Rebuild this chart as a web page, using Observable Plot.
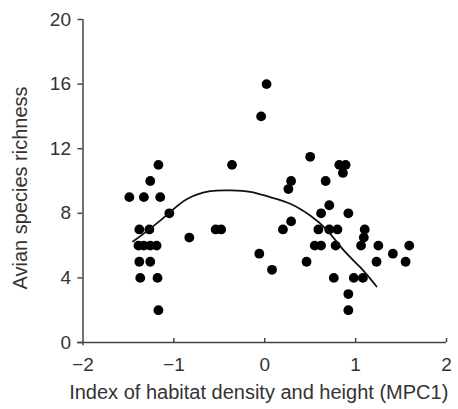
<!DOCTYPE html>
<html>
<head>
<meta charset="utf-8">
<script src="https://cdn.jsdelivr.net/npm/d3@7"></script>
<script src="https://cdn.jsdelivr.net/npm/@observablehq/plot@0.6"></script>
<style>
  html, body { margin: 0; padding: 0; background: #fff; }
</style>
</head>
<body>
<div id="chart"></div>
<script>
// Index of habitat density and height (MPC1)
const mpc1 = [
  -1.49, -1.33, -1.15, -1.17, -1.26, -1.05, -1.38, -1.27, -0.83, -0.54, -0.48,
  -1.39, -1.33, -1.26, -1.19, -1.38, -1.26, -1.37, -1.18, -1.17, -0.36,
  0.02, -0.04, 0.50, 0.82, 0.89, 0.86, 0.29, 0.26, 0.67, 0.71, 0.62, 0.92,
  0.29, 0.20, 0.59, 0.71, 0.80, 0.55, 0.62, 0.78, -0.06, 0.08, 0.46, 0.76,
  0.98, 1.08, 0.92, 0.92,
  1.10, 1.09, 1.06, 1.25, 1.59, 1.41, 1.23, 1.55
];
// Avian species richness
const richness = [
  9, 9, 9, 11, 10, 8, 7, 7, 6.5, 7, 7,
  6, 6, 6, 6, 5, 5, 4, 4, 2, 11,
  16, 14, 11.5, 11, 11, 10.5, 10, 9.5, 10, 8.5, 8, 8,
  7.5, 7, 7, 7, 7, 6, 6, 6, 5.5, 4.5, 5, 4,
  4, 4, 3, 2,
  7, 6.5, 6, 6, 6, 5.5, 5, 5
];
// fitted curve
const fitX = [-1.45, -1.25, -1.05, -0.85, -0.6, -0.38, -0.16, 0.06, 0.28, 0.5, 0.69, 0.87, 1.05, 1.23];
const fitY = [6.25, 7.1, 8.03, 8.9, 9.37, 9.42, 9.33, 9.0, 8.59, 7.86, 6.93, 5.7, 4.66, 3.47];

const xTicks = [-2, -1, 0, 1, 2];
const yTicks = [0, 4, 8, 12, 16, 20];
const xTitle = "Index of habitat density and height (MPC1)";
const yTitle = "Avian species richness";

const points = mpc1.map((x, i) => ({x, y: richness[i]}));
const fit = fitX.map((x, i) => ({x, y: fitY[i]}));
const tickFmt = d => d < 0 ? "\u2212" + Math.abs(d) : String(d);

const axisColor = "#444";

const chart = Plot.plot({
  width: 458,
  height: 409,
  marginLeft: 82.5,
  marginRight: 12,
  marginTop: 19,
  marginBottom: 67,
  style: {fontFamily: "'Liberation Sans', Arial, sans-serif", color: "#333", background: "#fff"},
  x: {domain: [-2, 2]},
  y: {domain: [0, 20]},
  marks: [
    // axis lines
    Plot.ruleY([0], {x1: -2.06, x2: 2, stroke: axisColor, strokeWidth: 1.5}),
    Plot.ruleX([-2], {y1: -0.2, y2: 20, stroke: axisColor, strokeWidth: 1.5}),
    // inward x ticks
    Plot.ruleX(xTicks.slice(1), {x: d => d, y1: 0, y2: 0.25, stroke: axisColor, strokeWidth: 1.5}),
    Plot.axisX({
      ticks: xTicks, tickSize: 0, tickPadding: 15, tickFormat: tickFmt,
      fontSize: 19, label: null
    }),
    Plot.axisY({
      ticks: yTicks, tickSize: 5, tickPadding: 7, stroke: axisColor, strokeWidth: 1.5,
      fontSize: 19, label: null
    }),
    // axis titles
    Plot.text([xTitle], {
      text: d => d, frameAnchor: "bottom", lineAnchor: "top", textAnchor: "middle",
      dy: 42, dx: -6, fontSize: 20, fill: "#333"
    }),
    Plot.text([yTitle], {
      text: d => d, frameAnchor: "left", lineAnchor: "top", textAnchor: "middle",
      rotate: -90, dx: -70.5, dy: 7, fontSize: 20, fill: "#333"
    }),
    Plot.dot(points, {x: "x", y: "y", r: 4.9, fill: "#000", stroke: "none"}),
    Plot.line(fit, {x: "x", y: "y", curve: "natural", stroke: "#111", strokeWidth: 1.8})
  ]
});
document.getElementById("chart").appendChild(chart);
</script>
</body>
</html>
